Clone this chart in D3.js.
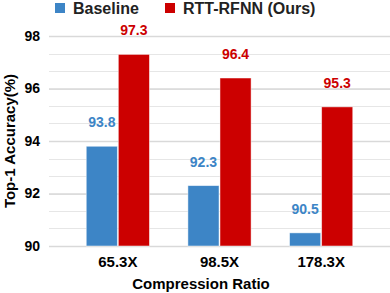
<!DOCTYPE html>
<html><head><meta charset="utf-8">
<script src="https://cdn.jsdelivr.net/npm/d3@7"></script>
<style>body{margin:0;background:#fff}svg{display:block;font-family:"Liberation Sans",Arial,sans-serif}</style>
</head><body><svg id="c" width="390" height="293"></svg>
<script>
const categories = ["65.3X", "98.5X", "178.3X"];
const seriesNames = ["Baseline", "RTT-RFNN (Ours)"];
const baseline = [93.8, 92.3, 90.5];
const ours = [97.3, 96.4, 95.3];
const yTicks = [90, 92, 94, 96, 98];
const colors = ["#3d85c6", "#cc0000"];

const svg = d3.select("#c");
const y = d3.scaleLinear().domain([90, 98]).range([246, 36]);
const x = d3.scaleBand().domain(categories).range([67, 372]).paddingInner(0).paddingOuter(0);
const xs = d3.scaleBand().domain(seriesNames).range([0, x.bandwidth()]).paddingInner(0.03).paddingOuter(0.6);

// minor gridlines
const minor = d3.range(90, 98.01, 2/3);
svg.append("g").selectAll("line").data(minor).join("line")
  .attr("x1", 49).attr("x2", 390).attr("y1", d => Math.round(y(d)) + 0.5).attr("y2", d => Math.round(y(d)) + 0.5)
  .attr("stroke", "#e6e6e6").attr("stroke-width", 1);
// major gridlines + labels
const yAxis = d3.axisLeft(y).tickValues(yTicks).tickSize(-341).tickFormat(d3.format("d"));
const gy = svg.append("g").attr("transform", "translate(49,0)").call(yAxis);
gy.select(".domain").remove();
gy.selectAll(".tick line").attr("stroke", "#d9d9d9").attr("stroke-width", 1.3);
gy.selectAll(".tick text").attr("x", -9).attr("fill", "#000").style("font-size", "14px").style("font-weight", "bold");

const data = categories.map((c, i) => ({c, vals: [baseline[i], ours[i]]}));
const groups = svg.append("g").selectAll("g").data(data).join("g")
  .attr("transform", d => `translate(${x(d.c)},0)`);
groups.selectAll("rect").data(d => d.vals.map((v, j) => ({v, s: seriesNames[j], j}))).join("rect")
  .attr("x", d => xs(d.s)).attr("width", xs.bandwidth())
  .attr("y", d => y(d.v)).attr("height", d => y(90) - y(d.v))
  .attr("fill", d => colors[d.j]).attr("stroke", "#fff").attr("stroke-opacity", 0.6).attr("stroke-width", 0.8);
groups.selectAll("text").data(d => d.vals.map((v, j) => ({v, s: seriesNames[j], j}))).join("text")
  .attr("x", d => xs(d.s) + xs.bandwidth() / 2).attr("y", d => y(d.v) - 19)
  .attr("text-anchor", "middle").attr("fill", d => colors[d.j])
  .style("font-size", "14px").style("font-weight", "bold").text(d => d.v.toFixed(1));

// x axis labels
const xAxis = d3.axisBottom(x).tickSize(0).tickPadding(10);
const gx = svg.append("g").attr("transform", "translate(0,246)").call(xAxis);
gx.select(".domain").remove();
gx.selectAll(".tick text").attr("fill", "#000").style("font-size", "15px").style("font-weight", "bold");

svg.append("text").attr("x", 201).attr("y", 289).attr("text-anchor", "middle")
  .style("font-size", "15px").style("font-weight", "bold").attr("fill", "#000").text("Compression Ratio");
svg.append("text").attr("transform", "translate(15,141) rotate(-90)").attr("text-anchor", "middle")
  .style("font-size", "15px").style("font-weight", "bold").attr("fill", "#000").text("Top-1 Accuracy(%)");

// legend
const lx = [55, 165];
const leg = svg.append("g").selectAll("g").data(seriesNames).join("g")
  .attr("transform", (d, i) => `translate(${lx[i]},3)`);
leg.append("rect").attr("width", 10).attr("height", 10).attr("fill", (d, i) => colors[i]);
leg.append("text").attr("x", 18).attr("y", 11).attr("fill", "#222")
  .style("font-size", "16px").style("font-weight", "bold").text(d => d);
</script></body></html>
